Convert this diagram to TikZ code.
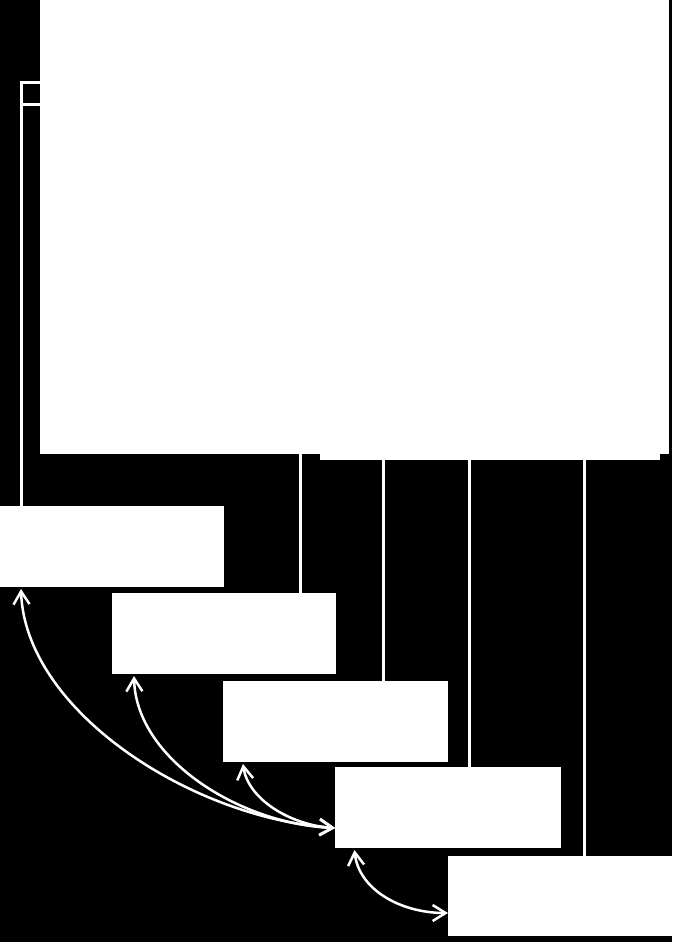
\documentclass[tikz,border=0pt]{standalone}
\usetikzlibrary{arrows.meta,calc}
\begin{document}
\begin{tikzpicture}[x=1pt,y=-1pt,
  wbox/.style={fill=white, draw=none, inner sep=0pt, outer sep=0pt, anchor=north west},
  link/.style={white, line width=3pt},
  rel/.style={white, line width=2.5pt, {Straight Barb[length=13pt,width=16pt]}-{Straight Barb[length=13pt,width=16pt]}}]
\fill[black] (0,0) rectangle (672,942);
\useasboundingbox (0,0) rectangle (672,942);
% top blocks
\node[wbox, minimum width=340pt, minimum height=460pt] (topr) at (320,0) {};
\node[wbox, minimum width=629pt, minimum height=454pt] (top) at (40,0) {};
% lower boxes
\node[wbox, minimum width=224pt, minimum height=81pt] (b1) at (0,506) {};
\node[wbox, minimum width=224pt, minimum height=81pt] (b2) at (112,593) {};
\node[wbox, minimum width=225pt, minimum height=81pt] (b3) at (223,681) {};
\node[wbox, minimum width=226pt, minimum height=81pt] (b4) at (335,767) {};
\node[wbox, minimum width=224pt, minimum height=80pt] (b5) at (448,856) {};
% connector coordinates
\coordinate (t1) at ($(top.north west)+(0,82)$);
\coordinate (t2) at ($(top.north west)+(0,104)$);
\coordinate (j1) at ($(b1.north west)+(21,0)$);
\coordinate (j2) at ($(b2.north west)+(188,0)$);
\coordinate (j3) at ($(b3.north west)+(160.5,0)$);
\coordinate (j4) at ($(b4.north west)+(134,0)$);
\coordinate (j5) at ($(b5.north west)+(136,0)$);
% vertical connectors
\draw[link] (t1) -| (j1);
\draw[link] (t2) -- (t2 -| j1);
\draw[link] (j2 |- top.south) -- (j2);
\draw[link] (j3 |- topr.south) -- (j3);
\draw[link] (j4 |- topr.south) -- (j4);
\draw[link] (j5 |- topr.south) -- (j5);
% relation arrows
\coordinate (s1) at ($(b1.south west)+(21,2)$);
\coordinate (s2) at ($(b2.south west)+(22,2)$);
\coordinate (s3) at ($(b3.south west)+(20,2)$);
\coordinate (s4) at ($(b4.south west)+(19.5,2)$);
\coordinate (e4) at ($(b4.south west)+(0,-20)$);
\coordinate (e5) at ($(b5.south west)+(0,-23)$);
\draw[rel] (s1) .. controls +(4,121) and +(-145,-10) .. (e4);
\draw[rel] (s2) .. controls +(2,83) and +(-95,-4) .. (e4);
\draw[rel] (s3) .. controls +(5,35) and +(-45,-3) .. (e4);
\draw[rel] (s4) .. controls +(4,39) and +(-48,0) .. (e5);
\end{tikzpicture}
\end{document}
